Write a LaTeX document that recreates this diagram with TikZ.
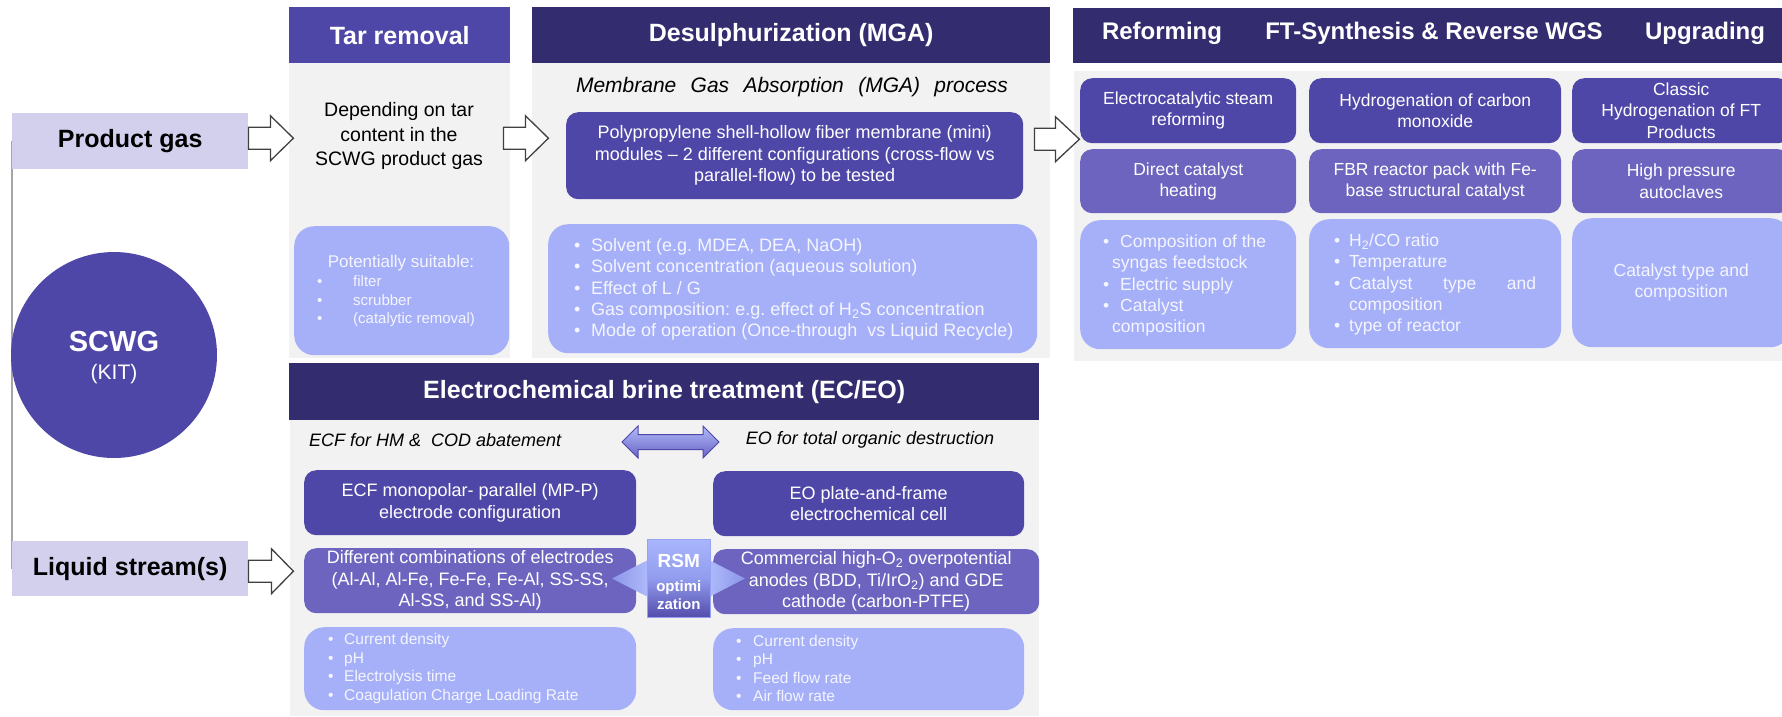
\documentclass[tikz,border=0pt]{standalone}
\usepackage{fontspec}
\setmainfont{Liberation Sans}
\usetikzlibrary{calc}
\pgfdeclarelayer{background}
\pgfsetlayers{background,main}

\definecolor{navy}{RGB}{51,45,112}
\definecolor{violet}{RGB}{79,71,168}
\definecolor{midviolet}{RGB}{108,100,191}
\definecolor{periwinkle}{RGB}{166,176,249}
\definecolor{lavender}{RGB}{211,208,238}
\definecolor{panelgray}{RGB}{242,242,242}
\definecolor{paletext}{RGB}{244,245,255}
\definecolor{arrowgray}{RGB}{64,64,64}
\definecolor{linegray}{RGB}{166,166,166}

\newcommand\fs[2]{\fontsize{#1}{#2}\selectfont}
\newcommand\bul[1]{\makebox[#1][l]{\textbullet}}
% box from (x1,y1) to (x2,y2): style, name, x1, y1, x2, y2, text
\newcommand\panelbox[7]{\node[#1, minimum width={(#5-#3)*1pt}, minimum height={(#6-#4)*1pt}, anchor=north west] (#2) at (#3,#4) {#7};}
% white block arrow: start point, shaft length, head length
\newcommand\blockarrow[3]{\draw[blockarr] (#1) ++(0,-11) -- ++(#2,0) -- ++(0,-11.5) -- ++(#3,22.5) -- ++(-#3,22.5) -- ++(0,-11.5) -- ++(-#2,0) -- cycle;}

\tikzset{
  hdr/.style={fill=navy, text=white, font=\fs{25}{30}\bfseries, inner sep=0pt},
  hdrlight/.style={hdr, fill=violet},
  panel/.style={fill=panelgray, inner sep=0pt},
  feed/.style={fill=lavender, text=black, font=\fs{25}{30}\bfseries, inner sep=0pt},
  dbox/.style={fill=violet, rounded corners=12pt, text=white, align=center, inner sep=0pt, font=\fs{18}{21.5}},
  mbox/.style={dbox, fill=midviolet},
  rdbox/.style={dbox, font=\fs{17.5}{21.3}},
  rmbox/.style={mbox, font=\fs{17.5}{21.3}},
  lbox/.style={fill=periwinkle, rounded corners=20pt, text=paletext, align=center, inner sep=0pt, font=\fs{17.5}{21.3}},
  txt/.style={inner sep=0pt, align=center},
  plist/.style={inner sep=0pt, align=left, text=paletext},
  blockarr/.style={fill=white, draw=arrowgray, line width=1.3pt, line join=miter},
}

\begin{document}
\frenchspacing
\begin{tikzpicture}[x=1pt,y=-1pt]
\useasboundingbox (0,0) rectangle (1782,716);
\clip (0,0) rectangle (1782,716);

% ---------- sources ----------
\panelbox{feed}{pg}{12}{113}{248}{169}{Product gas}
\panelbox{feed}{ls}{12}{541}{248}{596}{Liquid stream(s)}
\begin{pgfonlayer}{background}
  \draw[line width=2pt, draw=linegray] (pg.west) -- (ls.west);
\end{pgfonlayer}
\node[circle, fill=violet, minimum size=206pt, inner sep=0pt] (scwg) at (114,355) {};
\node[txt, text=white, font=\fs{29}{32}\bfseries] (scwgname) at ($(scwg.center)+(0,-13)$) {SCWG};
\node[txt, text=white, font=\fs{21}{24}] (scwgkit) at ($(scwg.center)+(0,19)$) {(KIT)};

% ---------- tar removal ----------
\panelbox{hdrlight}{tarhdr}{289}{7}{510}{63}{Tar removal}
\panelbox{panel}{tarpanel}{289}{63}{510}{358}{}
\node[txt, font=\fs{19.5}{24.5}] (tartext) at (399,136) {Depending on tar\\content in the\\SCWG product gas};
\panelbox{lbox}{tarbox}{294}{226}{509}{355}{}
\node[txt, text=paletext, font=\fs{17}{20}] (tarsuit) at (401,263) {Potentially suitable:};
\node[plist, anchor=west, font=\fs{15}{18.5}] (tarlist) at (317,301.5)
  {\bul{36pt}filter\\ \bul{36pt}scrubber\\ \bul{36pt}(catalytic removal)};

% ---------- desulphurization ----------
\panelbox{hdr}{mgahdr}{532}{7}{1050}{63}{Desulphurization (MGA)}
\panelbox{panel}{mgapanel}{532}{63}{1050}{358}{}
\node[txt, font=\fs{21}{24}\itshape] (mgalab) at (792,87) {\makebox[432pt][s]{Membrane Gas Absorption (MGA) process}};
\panelbox{dbox}{ppbox}{566}{112}{1023}{199}{Polypropylene shell-hollow fiber membrane (mini)\\modules -- 2 different configurations (cross-flow vs\\parallel-flow) to be tested}
\panelbox{lbox}{mgabox}{548}{224}{1037}{353}{}
\node[plist, anchor=west, font=\fs{18}{21.3}] (mgalist) at (574,289.5)
  {\bul{17pt}Solvent (e.g. MDEA, DEA, NaOH)\\
   \bul{17pt}Solvent concentration (aqueous solution)\\
   \bul{17pt}Effect of L / G\\
   \bul{17pt}Gas composition: e.g. effect of H\textsubscript{2}S concentration\\
   \bul{17pt}Mode of operation (Once-through\ \ vs Liquid Recycle)};

% ---------- reforming / FT / upgrading ----------
\panelbox{hdr}{fthdr}{1073}{8}{1790}{63}{}
\node[txt, text=white, font=\fs{24}{28}\bfseries] (reflab) at (1162,33) {Reforming};
\node[txt, text=white, font=\fs{24}{28}\bfseries] (ftlab) at (1434,33) {FT-Synthesis \& Reverse WGS};
\node[txt, text=white, font=\fs{24}{28}\bfseries] (uplab) at (1705,33) {Upgrading};
\panelbox{panel}{ftpanel}{1074}{71}{1790}{361}{}

\panelbox{rdbox}{refa}{1080}{78}{1296}{143}{Electrocatalytic steam\\reforming}
\panelbox{rdbox}{fta}{1309}{78}{1561}{143}{Hydrogenation of carbon\\monoxide}
\panelbox{rdbox}{upa}{1572}{78}{1790}{143}{Classic\\Hydrogenation of FT\\Products}
\panelbox{rmbox}{refb}{1080}{149}{1296}{213}{Direct catalyst\\heating}
\panelbox{rmbox}{ftb}{1309}{149}{1561}{213}{FBR reactor pack with Fe-\\base structural catalyst}
\panelbox{rmbox}{upb}{1572}{149}{1790}{213}{High pressure\\autoclaves}
\panelbox{lbox}{refc}{1080}{220}{1296}{349}{}
\panelbox{lbox}{ftc}{1309}{219}{1561}{348}{}
\panelbox{lbox}{upc}{1572}{218}{1790}{347}{Catalyst type and\\composition}
\node[plist, anchor=west, font=\fs{17.5}{21.3}] (reflist) at (1103,285.5)
  {\bul{17pt}Composition of the\\
   \hspace*{9pt}syngas feedstock\\
   \bul{17pt}Electric supply\\
   \bul{17pt}Catalyst\\
   \hspace*{9pt}composition};
\node[plist, anchor=west, font=\fs{17.5}{21.3}] (ftlist) at (1334,284.5)
  {\bul{15pt}H\textsubscript{2}/CO ratio\\
   \bul{15pt}Temperature\\
   \bul{15pt}\makebox[187pt][s]{Catalyst type and}\\
   \hspace*{15pt}composition\\
   \bul{15pt}type of reactor};

% ---------- electrochemical brine treatment ----------
\panelbox{hdr}{echdr}{289}{363}{1039}{420}{Electrochemical brine treatment (EC/EO)}
\panelbox{panel}{ecpanel}{290}{420}{1039}{716}{}
\node[txt, anchor=west, font=\fs{18}{21}\itshape] (ecflab) at (309,440) {ECF for HM \&\ \ COD abatement};
\node[txt, font=\fs{18}{21}\itshape] (eolab) at (870,440) {EO for total organic destruction};
\coordinate (dl) at (622,442);
\coordinate (dr) at (719,442);
\draw[top color={rgb,255:red,178;green,188;blue,250}, bottom color={rgb,255:red,104;green,98;blue,196}, draw=violet, line width=1pt, line join=miter]
  (dl) -- ++(16,-16) -- ++(0,8.5) -- ++(65,0) -- ++(0,-8.5) -- (dr) -- ++(-16,16) -- ++(0,-8.5) -- ++(-65,0) -- ++(0,8.5) -- cycle;

\panelbox{dbox}{ecfa}{304}{470}{636}{535}{ECF monopolar- parallel (MP-P)\\electrode configuration}
\panelbox{mbox}{ecfb}{304}{548}{636}{613}{Different combinations of electrodes\\(Al-Al, Al-Fe, Fe-Fe, Fe-Al, SS-SS,\\Al-SS, and SS-Al)}
\panelbox{lbox}{ecfc}{304}{627}{636}{710}{}
\node[plist, anchor=west, font=\fs{15.5}{18.4}] (ecflist) at (328,668.5)
  {\bul{16pt}Current density\\
   \bul{16pt}pH\\
   \bul{16pt}Electrolysis time\\
   \bul{16pt}Coagulation Charge Loading Rate};

\panelbox{dbox}{eoa}{713}{471}{1024}{536}{EO plate-and-frame\\electrochemical cell}
\panelbox{mbox}{eob}{713}{549}{1039}{614}{Commercial high-O\textsubscript{2} overpotential\\anodes (BDD, Ti/IrO\textsubscript{2}) and GDE\\cathode (carbon-PTFE)}
\panelbox{lbox}{eoc}{713}{628}{1024}{710}{}
\node[plist, anchor=west, font=\fs{15.5}{18.4}] (eolist) at (736,668.5)
  {\bul{17pt}Current density\\
   \bul{17pt}pH\\
   \bul{17pt}Feed flow rate\\
   \bul{17pt}Air flow rate};

% RSM optimization link between both columns
\shade[left color={rgb,255:red,140;green,150;blue,232}, right color={rgb,255:red,174;green,186;blue,250}]
  (648,560) -- (612,578.5) -- (648,597) -- cycle;
\shade[left color={rgb,255:red,174;green,186;blue,250}, right color={rgb,255:red,140;green,150;blue,232}]
  (709,560) -- (745,578.5) -- (709,597) -- cycle;
\panelbox{txt, top color={rgb,255:red,168;green,182;blue,252}, bottom color={rgb,255:red,84;green,76;blue,172}, middle color={rgb,255:red,146;green,156;blue,238}, draw={rgb,255:red,150;green,162;blue,245}, line width=0.6pt}{rsm}{647}{539}{710}{617}{}
\node[txt, text=white, font=\fs{19}{22}\bfseries] (rsmlab) at ($(rsm.north)+(0,22)$) {RSM};
\node[txt, text=white, font=\fs{15}{18}\bfseries] (rsmopt) at ($(rsm.north)+(0,56)$) {optimi\\zation};

% ---------- flow arrows ----------
\blockarrow{$(pg.east)+(0,-3)$}{22}{23}
\blockarrow{$(tarpanel.east |- pg.east)+(-7,-3)$}{22}{23}
\blockarrow{$(mgapanel.east |- pg.east)+(-16,-2)$}{21}{24}
\blockarrow{$(ls.east)+(0,2.5)$}{23}{22}
\end{tikzpicture}
\end{document}
